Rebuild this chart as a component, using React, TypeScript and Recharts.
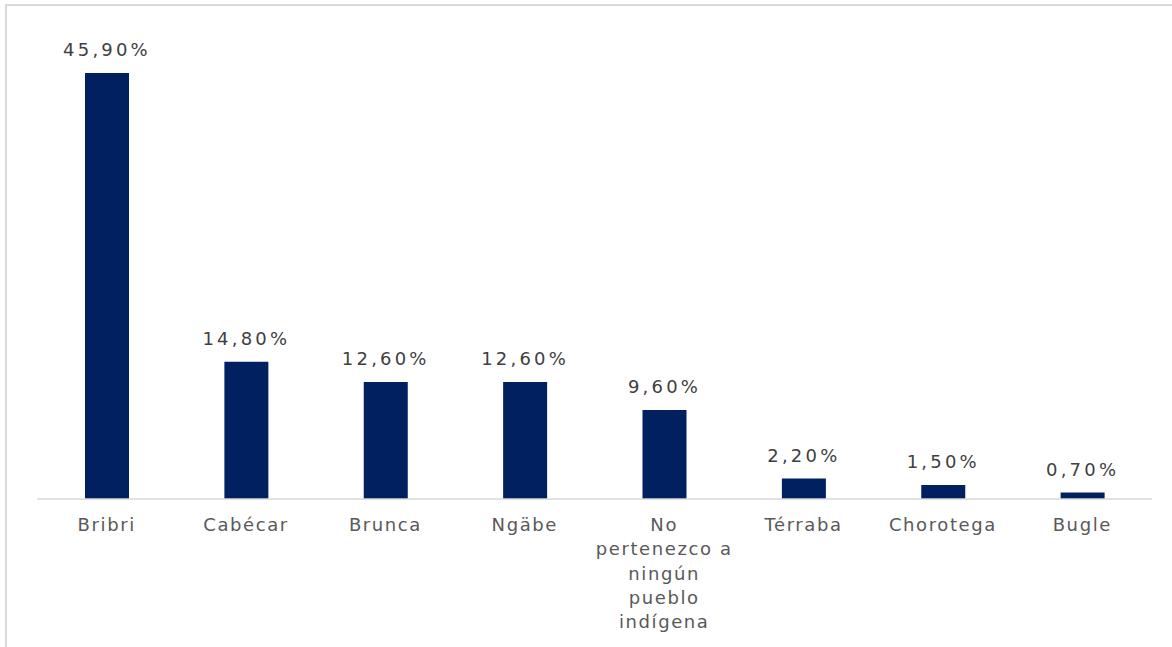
import { BarChart, Bar, XAxis, YAxis, LabelList } from "recharts";

const categories = [
  "Bribri",
  "Cabécar",
  "Brunca",
  "Ngäbe",
  "No pertenezco a ningún pueblo indígena",
  "Térraba",
  "Chorotega",
  "Bugle",
];
const shares = [45.9, 14.8, 12.6, 12.6, 9.6, 2.2, 1.5, 0.7];

const data = categories.map((name, i) => ({ name, value: shares[i] }));

const FONT = "'DejaVu Sans', sans-serif";

// wrap on ~12 chars, same break points as the original
function wrap(label: string, max = 12) {
  const lines: string[] = [];
  let cur = "";
  for (const w of label.split(" ")) {
    if (!cur) cur = w;
    else if ((cur + " " + w).length <= max) cur += " " + w;
    else {
      lines.push(cur);
      cur = w;
    }
  }
  if (cur) lines.push(cur);
  return lines;
}

function CategoryTick(props: any) {
  const { x, y, payload } = props;
  const lines = wrap(payload.value);
  return (
    <text
      x={x}
      y={y}
      textAnchor="middle"
      fill="#595959"
      fontSize={18}
      fontFamily={FONT}
      letterSpacing={1.6}
    >
      {lines.map((l, i) => (
        <tspan key={i} x={x} dy={i === 0 ? 26 : 24.3}>
          {l}
        </tspan>
      ))}
    </text>
  );
}

const fmt = (v: any) => `${Number(v).toFixed(2).replace(".", ",")}%`;

export default function App() {
  return (
    <div
      style={{
        position: "absolute",
        left: 0,
        top: 0,
        width: 1172,
        height: 647,
        overflow: "hidden",
        background: "#fff",
      }}
    >
      <div
        style={{
          position: "absolute",
          left: 5,
          top: 4,
          width: 1200,
          height: 700,
          border: "2px solid #d9d9d9",
        }}
      />
      <div style={{ position: "absolute", left: 0, top: 0 }}>
        <BarChart
          width={1172}
          height={647}
          data={data}
          margin={{ top: 35, right: 20, left: 37, bottom: 0 }}
          barSize={44}
        >
          <XAxis
            dataKey="name"
            height={148}
            axisLine={{ stroke: "#d9d9d9", strokeWidth: 1.5 }}
            tickLine={false}
            tickMargin={0}
            interval={0}
            tick={<CategoryTick />}
          />
          <YAxis hide domain={[0, 50]} />
          <Bar dataKey="value" fill="#002060" isAnimationActive={false}>
            <LabelList
              dataKey="value"
              position="top"
              offset={17}
              formatter={fmt}
              fill="#404040"
              fontSize={18}
              fontFamily={FONT}
              letterSpacing={3.2}
            />
          </Bar>
        </BarChart>
      </div>
    </div>
  );
}
